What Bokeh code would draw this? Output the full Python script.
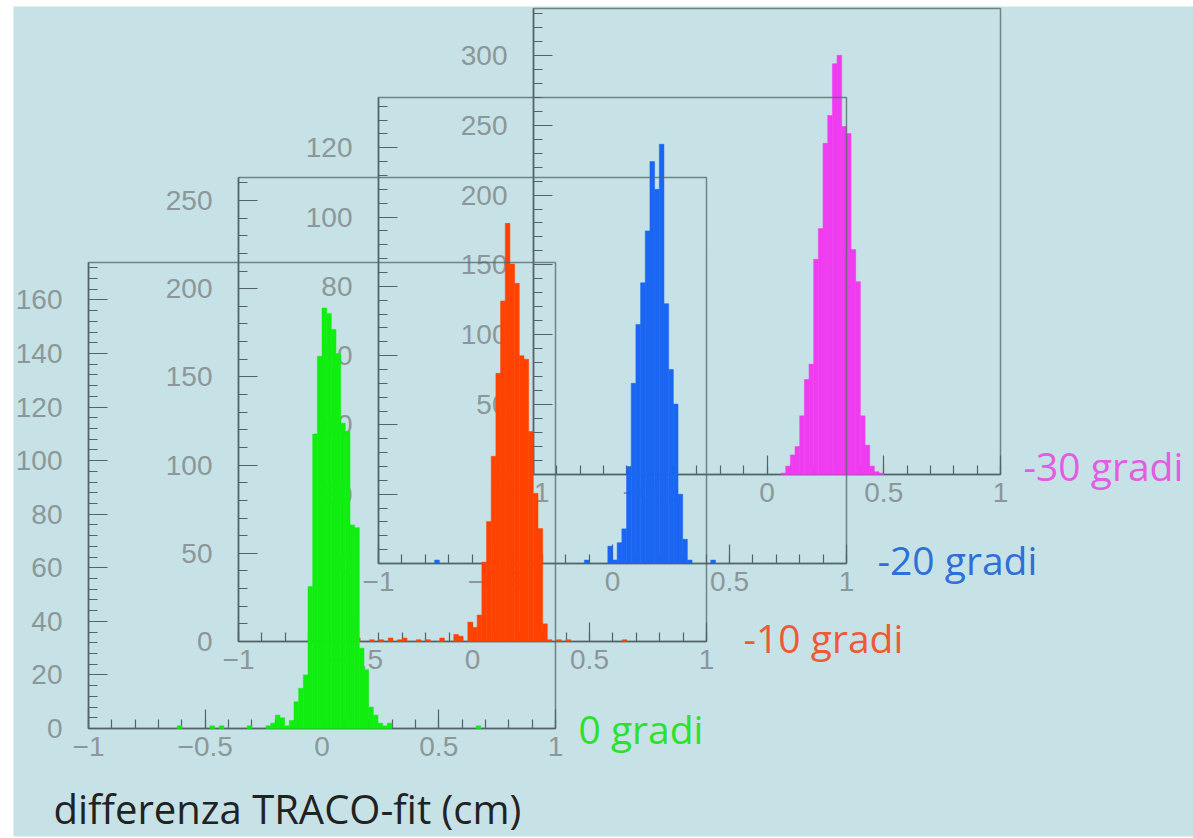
import numpy as np
from bokeh.plotting import figure
from bokeh.models import Range1d, LinearAxis, SingleIntervalTicker, Label
from bokeh.embed import file_html
from bokeh.resources import INLINE

# ---------------- data ----------------
BIN_WIDTH = 0.02
X_LIMITS = (-1.0, 1.0)
X_TICK_STEP = 0.5

# 0 gradi (green)
green_left = [-0.62, -0.48, -0.44, -0.32, -0.24, -0.22, -0.20, -0.18, -0.16, -0.14,
              -0.12, -0.10, -0.08, -0.06, -0.04, -0.02, 0.00, 0.02, 0.04, 0.06,
              0.08, 0.10, 0.12, 0.14, 0.16, 0.18, 0.20, 0.22, 0.24, 0.26,
              0.28, 0.66]
green_count = [1, 1, 1, 1, 1, 2, 5, 4, 1, 3,
               10, 15, 20, 53, 110, 139, 157, 155, 149, 140,
               114, 111, 76, 75, 30, 22, 8, 5, 2, 1,
               2, 1]

# -10 gradi (red)
red_left = [-0.52, -0.50, -0.44, -0.40, -0.36, -0.32, -0.30, -0.24, -0.20, -0.14,
            -0.08, -0.06, -0.02, 0.00, 0.02, 0.04, 0.06, 0.08, 0.10, 0.12,
            0.14, 0.16, 0.18, 0.20, 0.22, 0.24, 0.26, 0.28, 0.30, 0.32,
            0.36, 0.40, 0.64]
red_count = [1, 2, 1, 1, 2, 1, 2, 1, 1, 2,
             4, 3, 11, 8, 15, 45, 68, 105, 152, 193,
             237, 214, 203, 162, 160, 119, 84, 64, 10, 1,
             1, 1, 1]

# -20 gradi (blue)
blue_left = [-0.76, -0.12, -0.02, 0.00, 0.02, 0.04, 0.06, 0.08, 0.10, 0.12,
             0.14, 0.16, 0.18, 0.20, 0.22, 0.24, 0.26, 0.28, 0.30, 0.32, 0.42]
blue_count = [1, 1, 5, 1, 6, 10, 28, 52, 69, 81,
              96, 116, 108, 121, 75, 56, 46, 20, 7, 1, 1]

# -30 gradi (magenta)
mag_left = [0.06, 0.08, 0.10, 0.12, 0.14, 0.16, 0.18, 0.20, 0.22, 0.24,
            0.26, 0.28, 0.30, 0.32, 0.34, 0.36, 0.38, 0.40, 0.42, 0.44,
            0.46, 0.48]
mag_count = [1, 6, 14, 20, 42, 68, 79, 154, 176, 237,
             257, 294, 300, 249, 244, 161, 138, 42, 21, 6,
             2, 1]

panel_labels = ["0 gradi", "-10 gradi", "-20 gradi", "-30 gradi"]
y_axis_max = [174, 263, 134.5, 333.5]
y_tick_step = [20, 50, 20, 50]
title_text = "differenza TRACO-fit (cm)"

# ---------------- layout / style ----------------
W, H = 1193, 838
FX0, FX1, FY0, FY1 = 13, 1193, 6, 836   # plot frame (pixels, y from top)
BG = "#c6e2e6"
AXIS_COL = "#536468"
TICK_LABEL_COL = "#8c9799"

# frame boxes of each panel in picture pixels: (left, right, top, bottom)
PANEL_BOX = [(88, 555, 262, 728), (238, 706, 177, 641),
             (378, 846, 97, 563), (533, 1000, 8, 474)]
HIST_COL = ["#10ee10", "#ff4200", "#1a66f2", "#f03cf0"]
LABEL_COL = ["#2ee02e", "#ef5a36", "#2f6fd8", "#e35ce3"]
LABEL_OFF = [(23, 0), (37, 4), (31, 4), (23, 9)]   # text centre offset from frame corner

series = [(green_left, green_count), (red_left, red_count),
          (blue_left, blue_count), (mag_left, mag_count)]

p = figure(width=W, height=H, x_range=Range1d(FX0, FX1), y_range=Range1d(H - FY1, H - FY0),
           x_axis_type=None, y_axis_type=None, toolbar_location=None, output_backend="svg",
           min_border_left=FX0, min_border_right=W - FX1, min_border_top=FY0,
           min_border_bottom=H - FY1, background_fill_color=BG, border_fill_color="white",
           outline_line_color=None)
p.grid.visible = False

for i in [3, 2, 1, 0]:
    L, R, T, B = PANEL_BOX[i]
    ymax = y_axis_max[i]
    x0, x1 = X_LIMITS
    sx = (R - L) / (x1 - x0)
    sy = (B - T) / ymax
    xn, yn = f"x{i}", f"y{i}"
    p.extra_x_ranges[xn] = Range1d(x0 - (L - FX0) / sx, x1 + (FX1 - R) / sx)
    p.extra_y_ranges[yn] = Range1d(-(FY1 - B) / sy, ymax + (T - FY0) / sy)

    common = dict(axis_line_color=AXIS_COL, axis_line_width=1.5,
                  major_tick_line_color=AXIS_COL, minor_tick_line_color=AXIS_COL,
                  major_tick_line_width=1.2, minor_tick_line_width=1.2,
                  major_tick_in=19, major_tick_out=0, minor_tick_in=9, minor_tick_out=0,
                  major_label_text_font="Liberation Sans", major_label_text_font_size="28px",
                  major_label_text_color=TICK_LABEL_COL, level="underlay")
    xax = LinearAxis(x_range_name=xn, y_range_name=yn, fixed_location=0, bounds=(x0, x1),
                     ticker=SingleIntervalTicker(interval=X_TICK_STEP, num_minor_ticks=5),
                     major_label_standoff=8,
                     major_label_overrides={-1: "\u22121", -0.5: "\u22120.5"}, **common)
    p.add_layout(xax, "below")
    yax = LinearAxis(x_range_name=xn, y_range_name=yn, fixed_location=x0, bounds=(0, ymax),
                     ticker=SingleIntervalTicker(interval=y_tick_step[i], num_minor_ticks=5),
                     major_label_standoff=26, **common)
    p.add_layout(yax, "left")

    # frame box
    p.quad(left=[x0], right=[x1], bottom=[0], top=[ymax], x_range_name=xn, y_range_name=yn,
           fill_alpha=0, line_color=AXIS_COL, line_alpha=0.75, line_width=1.5)
    # histogram
    left, count = series[i]
    left = np.array(left)
    p.quad(left=left, right=left + BIN_WIDTH, bottom=0, top=count,
           x_range_name=xn, y_range_name=yn, fill_color=HIST_COL[i], line_color=HIST_COL[i],
           line_width=0.5)

    dx, dy = LABEL_OFF[i]
    p.add_layout(Label(x=x1, y=0, x_range_name=xn, y_range_name=yn, x_offset=dx, y_offset=dy,
                       text=panel_labels[i], text_font="Open Sans", text_font_size="39px",
                       text_color=LABEL_COL[i], text_baseline="middle"))

p.add_layout(Label(x=X_LIMITS[0], y=0, x_range_name="x0", y_range_name="y0",
                   x_offset=-35, y_offset=-80, text=title_text, text_font="Open Sans",
                   text_font_size="40px", text_color="#222222", text_baseline="middle"))

open("out.html", "w").write(file_html(p, INLINE))
